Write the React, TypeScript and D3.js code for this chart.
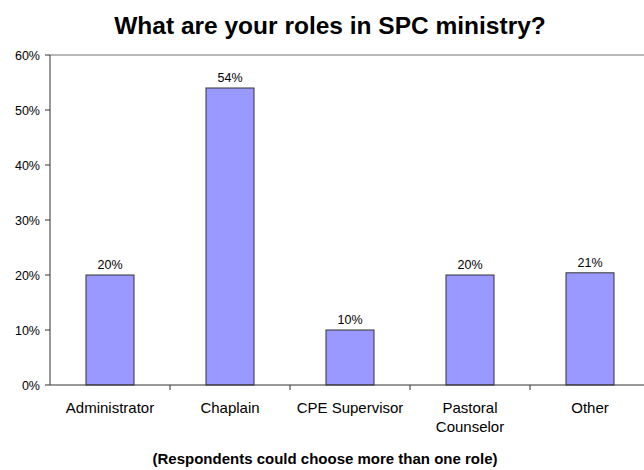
import React from "react";
import * as d3 from "d3";

const categories = ["Administrator", "Chaplain", "CPE Supervisor", "Pastoral\nCounselor", "Other"];
const values = [20, 54, 10, 20, 20.4];
const valueLabels = ["20%", "54%", "10%", "20%", "21%"];
const yTicks = [0, 10, 20, 30, 40, 50, 60];
const title = "What are your roles in SPC ministry?";
const footnote = "(Respondents could choose more than one role)";

const W = 644, H = 470;
const left = 50, top = 55, bottom = 385, right = 650;

export default function App() {
  const x = d3.scaleBand<string>().domain(categories).range([left, right]).paddingInner(0.6).paddingOuter(0.3);
  const xb = d3.scaleBand<string>().domain(categories).range([left, right]);
  const y = d3.scaleLinear().domain([0, 60]).range([bottom, top]);
  const font = "Arial, 'Liberation Sans', sans-serif";
  return (
    <svg width={W} height={H} style={{ position: "absolute", left: 0, top: 0, background: "#fff" }} fontFamily={font}>
      <text x={330} y={34} textAnchor="middle" fontSize={24.5} fontWeight="bold">{title}</text>
      <line x1={left} x2={right} y1={top} y2={top} stroke="#a0a0a0" strokeWidth={1.5} />
      {categories.map((c, i) => (
        <g key={c}>
          <rect x={x(c)} y={y(values[i])} width={x.bandwidth()} height={bottom - y(values[i])} fill="#9999ff" stroke="#333" strokeWidth={1} />
          <text x={x(c)! + x.bandwidth() / 2} y={y(values[i]) - 6} textAnchor="middle" fontSize={12.5}>{valueLabels[i]}</text>
          {c.split("\n").map((ln, j) => (
            <text key={j} x={xb(c)! + xb.bandwidth() / 2} y={413 + j * 18.5} textAnchor="middle" fontSize={15}>{ln}</text>
          ))}
        </g>
      ))}
      {categories.slice(1).map((c) => (
        <line key={"t" + c} x1={xb(c)} x2={xb(c)} y1={bottom} y2={bottom + 5} stroke="#333" />
      ))}
      <line x1={left} x2={right} y1={bottom} y2={bottom} stroke="#333" />
      <line x1={left} x2={left} y1={top} y2={bottom} stroke="#333" />
      {yTicks.map((t) => (
        <g key={t}>
          <line x1={left - 5} x2={left} y1={y(t)} y2={y(t)} stroke="#333" />
          <text x={left - 10} y={y(t) + 4.5} textAnchor="end" fontSize={12.5}>{t + "%"}</text>
        </g>
      ))}
      <text x={325} y={464} textAnchor="middle" fontSize={15} fontWeight="bold">{footnote}</text>
    </svg>
  );
}
